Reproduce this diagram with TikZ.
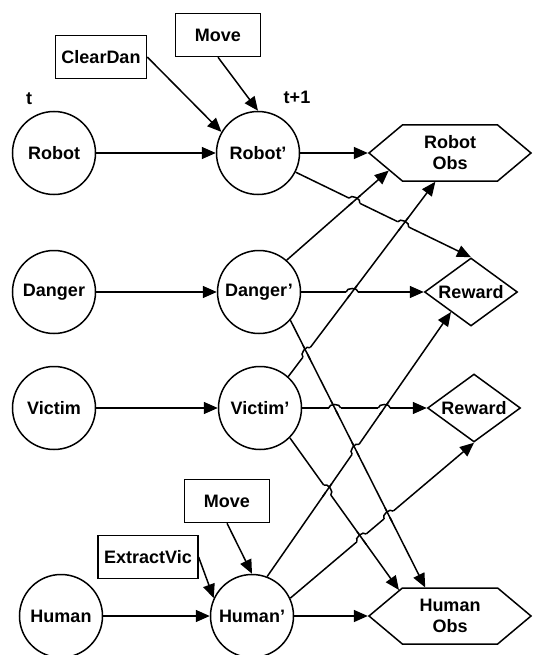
\documentclass[tikz,border=0pt]{standalone}
\usepackage{fontspec}
\setmainfont{Liberation Sans}
\usetikzlibrary{shapes,arrows.meta,positioning,calc,intersections}

% line hop: #1 crossing, #2/#3 ends of the hopping line, #4/#5 ends of the other line
\newcommand{\hop}[5]{%
  \draw[white,line width=5pt] ($(#1)!6pt!(#2)$) -- ($(#1)!6pt!(#3)$);
  \draw ($(#1)!8pt!(#4)$) -- ($(#1)!8pt!(#5)$);
  \draw ($(#1)!6pt!(#2)$) to[bend left=90] ($(#1)!6pt!(#3)$);
}

\begin{document}
\begin{tikzpicture}[x=1pt,y=1pt,line width=1.5pt,on grid,
        font=\fontsize{18}{21}\selectfont\bfseries,
        var/.style={circle,draw,minimum size=83pt,inner sep=0pt},
        act/.style={rectangle,draw,minimum width=85pt,minimum height=43pt,inner sep=6pt},
        obs/.style={signal,signal to=west and east,signal pointer angle=80,draw,
            minimum width=162pt,minimum height=56pt,align=center,inner sep=2pt},
        rew/.style={diamond,draw,aspect=1.37,minimum width=93pt,minimum height=68pt,inner sep=0pt},
        link/.style={-{Triangle[length=14pt,width=12pt]}}]
        \useasboundingbox (0,0) rectangle (536,-655);
        % time slices
        \node[var] (robot) at (54,-153) {Robot};
        \node[var, right=204pt of robot] (robotp) {Robot'};
        \node[var, below=139pt of robot] (danger) {Danger};
        \node[var, right=205pt of danger] (dangerp) {Danger'};
        \node[var, below=116pt of danger] (victim) {Victim};
        \node[var, right=206pt of victim] (victimp) {Victim'};
        \node[var, below right=208pt and 7pt of victim] (human) {Human};
        \node[var, right=191pt of human] (humanp) {Human'};
        \node[above left=54pt and 25pt of robot] (tlab) {t};
        \node[above right=56pt and 39pt of robotp] (tplab) {t+1};
        % actions
        \node[act, above left=96pt and 157pt of robotp] (clrdan) {ClearDan};
        \node[act, above left=118pt and 40pt of robotp] (move1) {Move};
        \node[act, above left=115pt and 25pt of humanp] (move2) {Move};
        \node[act, above left=59pt and 104pt of humanp] (extvic) {ExtractVic};
        % observations and rewards
        \node[obs, right=192pt of robotp] (robobs) {Robot\\Obs};
        \node[rew, right=212pt of dangerp] (rew1) {Reward};
        \node[rew, right=214pt of victimp] (rew2) {Reward};
        \node[obs, right=198pt of humanp] (humobs) {Human\\Obs};

        \draw[link] (robot) -- (robotp);
        \draw[link] (danger) -- (dangerp);
        \draw[link] (victim) -- (victimp);
        \draw[link] (human) -- (humanp);
        \draw[link] (clrdan.east) -- (robotp.150);
        \draw[link] (move1.south) -- (robotp.north);
        \draw[link] (move2.south) -- (humanp.north);
        \draw[link] (extvic.east) -- (humanp.155);
        \draw[link] (robotp) -- (robobs);
        \draw[link] (humanp) -- (humobs);
        \draw[link,name path=d2w] (dangerp) -- (rew1);
        \draw[link,name path=v2w] (victimp) -- (rew2);
        \draw[link,name path=r2w] (robotp.-27) -- (rew1.north);
        \draw[link,name path=d2o] (dangerp.49) -- (robobs.196);
        \draw[link,name path=v2o] (victimp.48) -- (robobs.243);
        \draw[link,name path=d2h] (dangerp.-42) -- (humobs.131);
        \draw[link,name path=v2h] (victimp.-45) -- (humobs.153);
        \draw[link,name path=h2w] (humanp.69) -- (rew1.225);
        \draw[link,name path=h2v] (humanp.25) -- (rew2.south);

        % crossings
        \path[name intersections={of=r2w and d2o,by=c1}];
        \path[name intersections={of=r2w and v2o,by=c2}];
        \path[name intersections={of=d2w and v2o,by=c3}];
        \path[name intersections={of=v2o and d2h,by=c4}];
        \path[name intersections={of=v2w and d2h,by=c5}];
        \path[name intersections={of=h2w and d2h,by=c6}];
        \path[name intersections={of=h2v and d2h,by=c7}];
        \path[name intersections={of=v2w and h2w,by=c8}];
        \path[name intersections={of=v2h and h2w,by=c9}];
        \path[name intersections={of=h2v and v2h,by=c10}];
        \hop{c1}{robotp.-27}{rew1.north}{dangerp.49}{robobs.196}
        \hop{c2}{robotp.-27}{rew1.north}{victimp.48}{robobs.243}
        \hop{c3}{dangerp}{rew1}{victimp.48}{robobs.243}
        \hop{c4}{victimp.48}{robobs.243}{dangerp.-42}{humobs.131}
        \hop{c5}{victimp}{rew2}{dangerp.-42}{humobs.131}
        \hop{c6}{humanp.69}{rew1.225}{dangerp.-42}{humobs.131}
        \hop{c7}{humanp.25}{rew2.south}{dangerp.-42}{humobs.131}
        \hop{c8}{victimp}{rew2}{humanp.69}{rew1.225}
        \hop{c9}{victimp.-45}{humobs.153}{humanp.69}{rew1.225}
        \hop{c10}{humanp.25}{rew2.south}{victimp.-45}{humobs.153}
\end{tikzpicture}
\end{document}
